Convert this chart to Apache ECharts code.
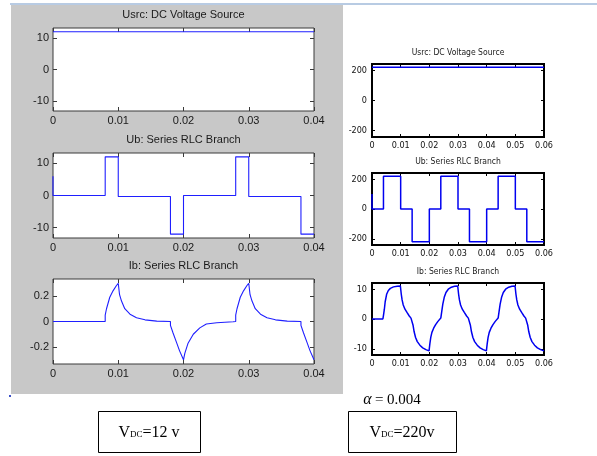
<!DOCTYPE html>
<html>
<head>
<meta charset="utf-8">
<script src="https://cdn.jsdelivr.net/npm/echarts@6/dist/echarts.min.js"></script>
<style>
  html, body { margin: 0; padding: 0; background: #ffffff; }
  #chart { width: 597px; height: 456px; }
</style>
</head>
<body>
<div id="chart"></div>
<script>
// ---- Tick labels ----
const xTicks12 = [0, 0.01, 0.02, 0.03, 0.04];
const xTicks220 = [0, 0.01, 0.02, 0.03, 0.04, 0.05, 0.06];
const yTicksV12 = [-10, 0, 10];
const yTicksI12 = [-0.2, 0, 0.2];
const yTicksV220 = [-200, 0, 200];
const yTicksI220 = [-10, 0, 10];

// ---- Titles ----
const titleUsrc = 'Usrc: DC Voltage Source';
const titleUb = 'Ub: Series RLC Branch';
const titleIb = 'Ib: Series RLC Branch';

// ---- VDC = 12 V : [time, value] ----
const usrc12 = [[0, 12], [0.04, 12]];
const ub12 = [
  [0, 6], [0, 0], [0.008, 0], [0.008, 12], [0.01, 12], [0.01, -0.3], [0.018, -0.3],
  [0.018, -12], [0.02, -12], [0.02, 0], [0.028, 0], [0.028, 12], [0.03, 12],
  [0.03, -0.3], [0.038, -0.3], [0.038, -12], [0.04, -12]
];
const ib12 = [
  [0, 0], [0.008, 0], [0.008, 0.05], [0.0082, 0.1], [0.0087, 0.19], [0.0092, 0.24], [0.0097, 0.28], [0.01, 0.3],
  [0.0102, 0.21], [0.0105, 0.16], [0.011, 0.1], [0.0118, 0.057], [0.0128, 0.03], [0.0141, 0.013], [0.0159, 0.003], [0.018, 0],
  [0.018, -0.03], [0.0184, -0.09], [0.0189, -0.16], [0.0194, -0.23], [0.02, -0.3],
  [0.0202, -0.25], [0.0207, -0.17], [0.0215, -0.1], [0.0225, -0.05], [0.0235, -0.02], [0.0251, -0.01], [0.0276, -0.002], [0.028, 0],
  [0.028, 0.05], [0.0282, 0.1], [0.0287, 0.19], [0.0292, 0.24], [0.0297, 0.28], [0.03, 0.3],
  [0.0302, 0.21], [0.0305, 0.16], [0.031, 0.1], [0.0318, 0.057], [0.0328, 0.03], [0.0341, 0.013], [0.0359, 0.003], [0.038, 0],
  [0.038, -0.03], [0.0384, -0.09], [0.0389, -0.16], [0.0394, -0.23], [0.04, -0.3]
];

// ---- VDC = 220 V : [time, value] ----
const usrc220 = [[0, 220], [0.06, 220]];
const ub220 = [
  [0, 100], [0, 0], [0.004, 0], [0.004, 220], [0.01, 220], [0.01, 0], [0.014, 0], [0.014, -220],
  [0.02, -220], [0.02, 0], [0.024, 0], [0.024, 220], [0.03, 220], [0.03, 0], [0.034, 0], [0.034, -220],
  [0.04, -220], [0.04, 0], [0.044, 0], [0.044, 220], [0.05, 220], [0.05, 0], [0.054, 0], [0.054, -220],
  [0.06, -220]
];
const ib220 = [
  [0, 0], [0.0038, 0], [0.004, 1.2], [0.0043, 3.2], [0.0046, 5.8], [0.0051, 8.3], [0.0057, 9.6], [0.0064, 10.3],
  [0.0075, 10.8], [0.0088, 11.0], [0.0099, 11.1],
  [0.0102, 8.4], [0.0105, 6.4], [0.0109, 4.7], [0.0115, 3.3], [0.0122, 2.2], [0.013, 1.0], [0.0136, 0.3],
  [0.014, -0.2], [0.0143, -2], [0.0147, -4.3], [0.0152, -6.2], [0.0158, -7.6], [0.0167, -8.8], [0.0177, -9.7],
  [0.0188, -10.3], [0.0199, -10.7],
  [0.0202, -8.2], [0.0205, -6.2], [0.0209, -4.5], [0.0215, -3.1], [0.0222, -1.9], [0.023, -0.8], [0.0236, -0.2],
  [0.024, 0.3], [0.0243, 2.3], [0.0247, 5], [0.0252, 7.3], [0.0258, 8.9], [0.0266, 10.0], [0.0277, 10.7],
  [0.0288, 11.0], [0.0299, 11.1],
  [0.0302, 8.4], [0.0305, 6.4], [0.0309, 4.7], [0.0315, 3.3], [0.0322, 2.2], [0.033, 1.0], [0.0336, 0.3],
  [0.034, -0.2], [0.0343, -2], [0.0347, -4.3], [0.0352, -6.2], [0.0358, -7.6], [0.0367, -8.8], [0.0377, -9.7],
  [0.0388, -10.3], [0.0399, -10.7],
  [0.0402, -8.2], [0.0405, -6.2], [0.0409, -4.5], [0.0415, -3.1], [0.0422, -1.9], [0.043, -0.8], [0.0436, -0.2],
  [0.044, 0.3], [0.0443, 2.3], [0.0447, 5], [0.0452, 7.3], [0.0458, 8.9], [0.0466, 10.0], [0.0477, 10.7],
  [0.0488, 11.0], [0.0499, 11.1],
  [0.0502, 8.4], [0.0505, 6.4], [0.0509, 4.7], [0.0515, 3.3], [0.0522, 2.2], [0.053, 1.0], [0.0536, 0.3],
  [0.054, -0.2], [0.0543, -2], [0.0547, -4.3], [0.0552, -6.2], [0.0558, -7.6], [0.0567, -8.8], [0.0577, -9.7],
  [0.0588, -10.3], [0.06, -10.7]
];

// ---- Styles ----
const scopeLeft = {
  font: 'Liberation Sans, Arial, sans-serif', fontSize: 11, titleSize: 11, titleGap: 13,
  border: '#3a3a3a', borderWidth: 1, tickLen: 4, lineColor: '#1f1fff', lineWidth: 1.1, labelColor: '#1a1a1a', yMargin: 4
};
const scopeRight = {
  font: 'Liberation Sans Narrow, DejaVu Sans Condensed, Arial Narrow, sans-serif', fontSize: 9, titleSize: 8.5, titleGap: 11,
  border: '#000000', borderWidth: 2, tickLen: 3, lineColor: '#0000f0', lineWidth: 1.5, labelColor: '#111111', yMargin: 5
};

const panels = [
  { rect: [53, 28, 261, 83], title: titleUsrc, data: usrc12, xMax: 0.04, xt: xTicks12, yMin: -13.2, yMax: 13.2, yt: yTicksV12, s: scopeLeft },
  { rect: [53, 153, 261, 85], title: titleUb, data: ub12, xMax: 0.04, xt: xTicks12, yMin: -13.2, yMax: 13.2, yt: yTicksV12, s: scopeLeft },
  { rect: [53, 279, 261, 85], title: titleIb, data: ib12, xMax: 0.04, xt: xTicks12, yMin: -0.333, yMax: 0.333, yt: yTicksI12, s: scopeLeft },
  { rect: [372, 64, 172, 73], title: titleUsrc, data: usrc220, xMax: 0.06, xt: xTicks220, yMin: -242, yMax: 242, yt: yTicksV220, s: scopeRight },
  { rect: [372, 173, 172, 72], title: titleUb, data: ub220, xMax: 0.06, xt: xTicks220, yMin: -242, yMax: 242, yt: yTicksV220, s: scopeRight },
  { rect: [372, 283, 172, 72], title: titleIb, data: ib220, xMax: 0.06, xt: xTicks220, yMin: -12.1, yMax: 12.1, yt: yTicksI220, s: scopeRight }
];

const grid = [], xAxis = [], yAxis = [], series = [], graphic = [];

// grey scope window behind the 12 V plots and a thin frame line on top
graphic.push({ type: 'rect', z: -100, shape: { x: 11, y: 5, width: 332, height: 389 }, style: { fill: '#c8c8c8' } });
graphic.push({ type: 'rect', z: -99, shape: { x: 10, y: 3, width: 587, height: 2 }, style: { fill: '#b8cbe3' } });
graphic.push({ type: 'rect', shape: { x: 9, y: 395, width: 2, height: 2 }, style: { fill: '#3a4fc8' } });

panels.forEach((p, i) => {
  const s = p.s;
  grid.push({
    left: p.rect[0], top: p.rect[1], width: p.rect[2], height: p.rect[3],
    show: true, backgroundColor: '#ffffff', borderColor: s.border, borderWidth: s.borderWidth
  });
  const tick = (vals) => ({ show: true, inside: true, length: s.tickLen, customValues: vals, lineStyle: { color: s.border, width: 1 } });
  const lbl = (vals, margin) => ({
    show: true, customValues: vals, margin: margin, color: s.labelColor,
    fontFamily: s.font, fontSize: s.fontSize, formatter: (v) => String(v)
  });
  const common = { type: 'value', gridIndex: i, splitLine: { show: false }, axisLine: { show: false, onZero: false } };
  xAxis.push(Object.assign({}, common, { position: 'bottom', min: 0, max: p.xMax, axisTick: tick(p.xt), axisLabel: lbl(p.xt, 4) }));
  xAxis.push(Object.assign({}, common, { position: 'top', min: 0, max: p.xMax, axisTick: tick(p.xt), axisLabel: { show: false } }));
  yAxis.push(Object.assign({}, common, { position: 'left', min: p.yMin, max: p.yMax, axisTick: tick(p.yt), axisLabel: lbl(p.yt, s.yMargin) }));
  yAxis.push(Object.assign({}, common, { position: 'right', min: p.yMin, max: p.yMax, axisTick: tick(p.yt), axisLabel: { show: false } }));
  series.push({
    type: 'line', xAxisIndex: 2 * i, yAxisIndex: 2 * i, data: p.data, symbol: 'none',
    lineStyle: { color: s.lineColor, width: s.lineWidth }, animation: false, clip: true
  });
  graphic.push({
    type: 'text', x: p.rect[0] + p.rect[2] / 2, y: p.rect[1] - s.titleGap,
    style: { text: p.title, font: s.titleSize + 'px ' + s.font, fill: '#1a1a1a', align: 'center', verticalAlign: 'middle' }
  });
});

// labels under the two sets of plots
const serif = 'Liberation Serif, Times New Roman, serif';
graphic.push({
  type: 'text', x: 392, y: 400,
  style: { text: '{a|α} {b|= 0.004}', align: 'center', verticalAlign: 'middle',
    rich: { a: { font: 'italic 16px ' + serif, fill: '#000' }, b: { font: '15px ' + serif, fill: '#000' } } }
});
[[98, 411, 102, 41, '12 v'], [348, 411, 108, 41, '220v']].forEach(([x, y, w, h, v]) => {
  graphic.push({ type: 'rect', shape: { x: x + 0.5, y: y + 0.5, width: w, height: h }, style: { fill: '#fff', stroke: '#000', lineWidth: 1 } });
  graphic.push({
    type: 'text', x: x + w / 2, y: y + h / 2 + 1,
    style: { text: '{v|V}{d|DC}{v|=' + v + '}', align: 'center', verticalAlign: 'middle',
      rich: { v: { font: '16px ' + serif, fill: '#000' }, d: { font: '9px ' + serif, fill: '#000', padding: [4, 0, 0, 0] } } }
  });
});

const chart = echarts.init(document.getElementById('chart'), null, { renderer: 'canvas' });
chart.setOption({ animation: false, grid, xAxis, yAxis, series, graphic });
</script>
</body>
</html>
